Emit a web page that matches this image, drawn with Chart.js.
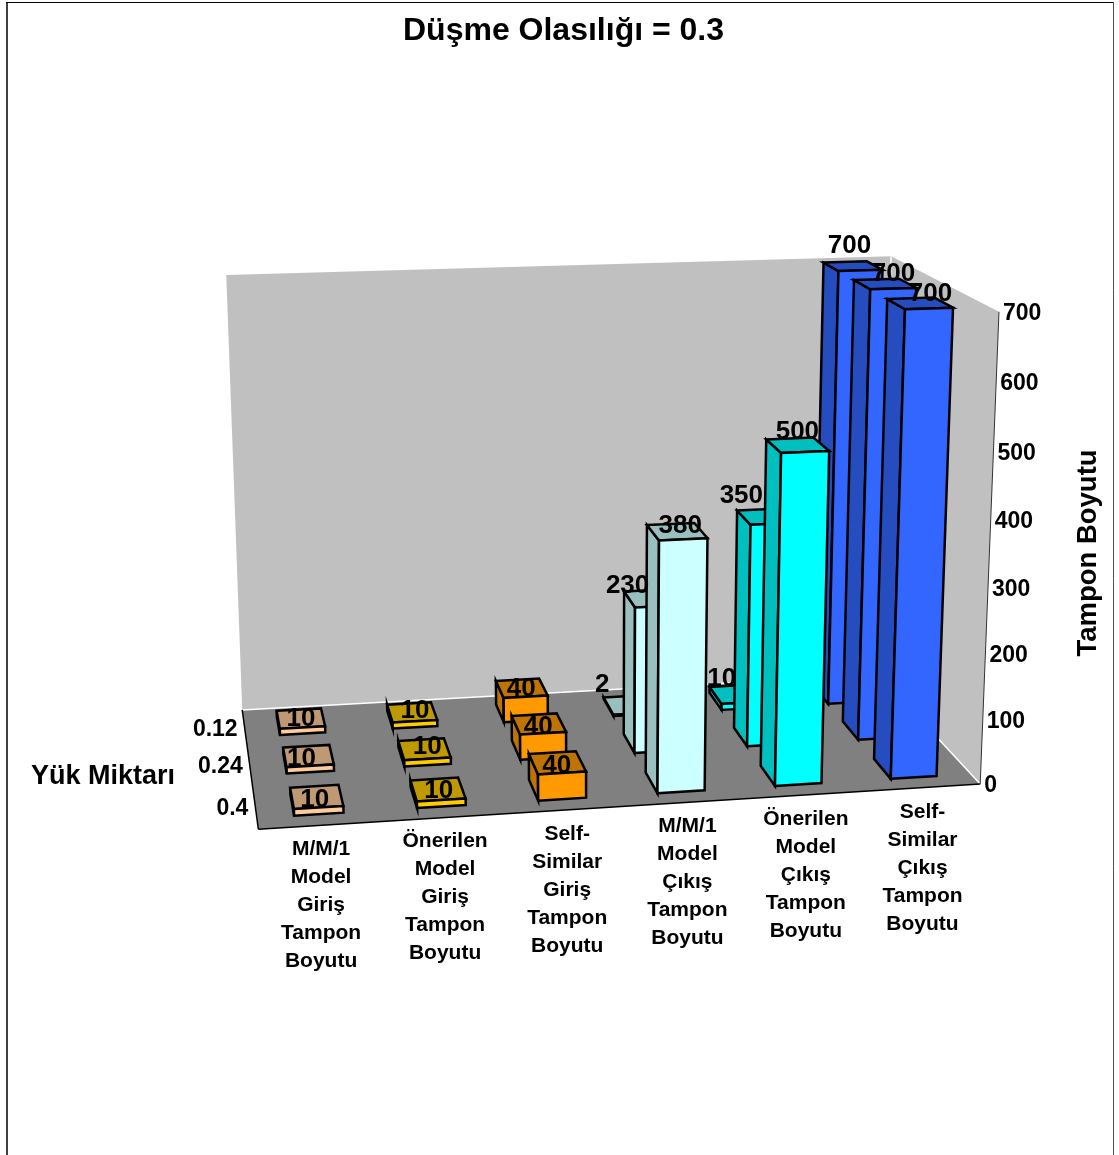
<!DOCTYPE html>
<html>
<head>
<meta charset="utf-8">
<title>Düşme Olasılığı = 0.3</title>
<style>
  html, body { margin: 0; padding: 0; background: #fff; overflow: hidden; }
  #wrap { width: 1119px; height: 1155px; }
</style>
<script src="https://cdn.jsdelivr.net/npm/chart.js@4"></script>
</head>
<body>
<div id="wrap"><canvas id="chart" width="1119" height="1155"></canvas></div>
<script>
// Buffer sizes per model, one list for each load level.
const categories = [
  ['M/M/1', 'Model', 'Giriş', 'Tampon', 'Boyutu'],
  ['Önerilen', 'Model', 'Giriş', 'Tampon', 'Boyutu'],
  ['Self-', 'Similar', 'Giriş', 'Tampon', 'Boyutu'],
  ['M/M/1', 'Model', 'Çıkış', 'Tampon', 'Boyutu'],
  ['Önerilen', 'Model', 'Çıkış', 'Tampon', 'Boyutu'],
  ['Self-', 'Similar', 'Çıkış', 'Tampon', 'Boyutu']
];
const loadLevels = ['0.12', '0.24', '0.4'];
const load012 = [10, 10, 40, 2, 10, 700];
const load024 = [10, 10, 40, 230, 350, 700];
const load040 = [10, 10, 40, 380, 500, 700];
const valueTicks = [0, 100, 200, 300, 400, 500, 600, 700];
const frontColors = ['#FFCC99', '#FFCC00', '#FF9900', '#CCFFFF', '#00FFFF', '#3366FF'];

const chartTitle = 'Düşme Olasılığı = 0.3';
const depthTitle = 'Yük Miktarı';
const valueTitle = 'Tampon Boyutu';

const FONT = '"Liberation Sans", Arial, sans-serif';
const BAR_WIDTH = 0.4;   // share of a category band
const BAR_DEPTH = 0.5;   // share of a load-level band
const BAR_STROKE = 2.5;

// Hand placement of value labels, in pixels, per load level and model.
const labelNudge = [
  [[4, 4], [4, 3], [-2, 5], [-32, -16], [-22, -11], [-13, -10]],
  [[-3, 7], [4, 2], [-2, 7], [-29, -7], [-32, -14], [-1, 0]],
  [[2, 7], [2, 6], [-2, 7], [-1, 2], [-7, -5], [1, 0]]
];

// Camera calibration: box coordinates (u, v, h), all 0..1, with the screen point each one lands on.
// u runs left to right, v from back wall to front edge, h from floor to the top of the value axis.
const calibration = [
  [0, 0, 0, 242, 710], [1, 0, 0, 877, 675], [0, 1, 0, 258, 831], [1, 1, 0, 980, 784],
  [0, 0, 1, 227, 274], [1, 0, 1, 892, 256], [1, 1, 1, 999, 313],
  [1, 1, 1/7, 984, 720], [1, 1, 2/7, 987, 654], [1, 1, 3/7, 989, 587],
  [1, 1, 4/7, 992, 520], [1, 1, 5/7, 994, 451], [1, 1, 6/7, 996, 383],
  [5.3/6, 11/12, 0, 890, 777], [5.7/6, 11/12, 0, 935, 773], [5.3/6, 9/12, 0, 876, 762],
  [5.3/6, 11/12, 1, 902, 308], [5.7/6, 11/12, 1, 952, 307], [5.3/6, 9/12, 1, 888, 300],
  [3.3/6, 11/12, 0, 657, 792], [3.7/6, 11/12, 0, 703, 789], [3.3/6, 9/12, 0, 648, 775],
  [3.3/6, 11/12, 380/700, 658, 540], [3.7/6, 11/12, 380/700, 706, 538], [3.3/6, 9/12, 380/700, 648, 527],
  [0.3/6, 11/12, 0, 295, 815], [0.7/6, 11/12, 0, 343, 812]
];

// Least-squares fit of a projective camera: x = (a·X) / (c·X + 1), scaled by 1000 for conditioning.
function solveCamera(points) {
  const n = 11;
  const A = Array.from({ length: n }, () => new Array(n + 1).fill(0));
  const addRow = (row, rhs) => {
    for (let i = 0; i < n; i++) {
      for (let j = 0; j < n; j++) A[i][j] += row[i] * row[j];
      A[i][n] += row[i] * rhs;
    }
  };
  for (const [u, v, h, px, py] of points) {
    const x = px / 1000, y = py / 1000;
    addRow([u, v, h, 1, 0, 0, 0, 0, -x * u, -x * v, -x * h], x);
    addRow([0, 0, 0, 0, u, v, h, 1, -y * u, -y * v, -y * h], y);
  }
  for (let c = 0; c < n; c++) {
    let best = c;
    for (let r = c + 1; r < n; r++) if (Math.abs(A[r][c]) > Math.abs(A[best][c])) best = r;
    [A[c], A[best]] = [A[best], A[c]];
    for (let r = 0; r < n; r++) {
      if (r === c) continue;
      const f = A[r][c] / A[c][c];
      for (let k = c; k <= n; k++) A[r][k] -= f * A[c][k];
    }
  }
  return A.map((row, i) => row[n] / row[i]);
}
const cam = solveCamera(calibration);

function project(u, v, h) {
  const w = cam[8] * u + cam[9] * v + cam[10] * h + 1;
  return [
    1000 * (cam[0] * u + cam[1] * v + cam[2] * h + cam[3]) / w,
    1000 * (cam[4] * u + cam[5] * v + cam[6] * h + cam[7]) / w
  ];
}

// Scale readers: turn data values into the 0..1 box coordinates.
const uOf = (chart, i) => (chart.scales.x.getPixelForValue(i) - chart.scales.x.left) / chart.scales.x.width;
const vOf = (chart, i) => (chart.scales.depth.getPixelForValue(i) - chart.scales.depth.left) / chart.scales.depth.width;
const hOf = (chart, val) => (chart.scales.y.bottom - chart.scales.y.getPixelForValue(val)) / chart.scales.y.height;

function shade(hex, k) {
  const n = parseInt(hex.slice(1), 16);
  const c = s => Math.round(((n >> s) & 255) * k);
  return `rgb(${c(16)},${c(8)},${c(0)})`;
}

function polygon(ctx, pts, fill, stroke, width) {
  ctx.beginPath();
  pts.forEach((p, i) => (i ? ctx.lineTo(p[0], p[1]) : ctx.moveTo(p[0], p[1])));
  ctx.closePath();
  if (fill) { ctx.fillStyle = fill; ctx.fill(); }
  if (stroke) { ctx.strokeStyle = stroke; ctx.lineWidth = width; ctx.stroke(); }
}

function segment(ctx, a, b, color, width) {
  ctx.beginPath();
  ctx.moveTo(a[0], a[1]);
  ctx.lineTo(b[0], b[1]);
  ctx.strokeStyle = color;
  ctx.lineWidth = width;
  ctx.stroke();
}

// Bar controller that draws each value as a box in the projected scene.
class Bar3DController extends Chart.BarController {
  draw() {
    const chart = this.chart, ctx = chart.ctx, meta = this.getMeta();
    const values = this.getDataset().data;
    const halfU = BAR_WIDTH / categories.length / 2;
    const halfV = BAR_DEPTH / loadLevels.length / 2;
    const v = vOf(chart, this.getDataset().depthIndex);
    ctx.save();
    ctx.lineJoin = 'miter';
    ctx.miterLimit = 10;
    meta.data.forEach((el, i) => {
      const u = uOf(chart, i), h = hOf(chart, values[i]);
      const color = this.getDataset().backgroundColor[i];
      const side = shade(color, 0.75);
      const u0 = u - halfU, u1 = u + halfU, v0 = v - halfV, v1 = v + halfV;
      polygon(ctx, [project(u0, v0, 0), project(u0, v1, 0), project(u0, v1, h), project(u0, v0, h)], side, '#000', BAR_STROKE);
      polygon(ctx, [project(u0, v0, h), project(u1, v0, h), project(u1, v1, h), project(u0, v1, h)], side, '#000', BAR_STROKE);
      polygon(ctx, [project(u0, v1, 0), project(u1, v1, 0), project(u1, v1, h), project(u0, v1, h)], color, '#000', BAR_STROKE);
    });
    ctx.restore();
  }
}
Bar3DController.id = 'bar3d';
Bar3DController.defaults = {};
Chart.register(Bar3DController);

// Frame, walls and floor behind the bars; all scene text in front of them.
const scenePlugin = {
  id: 'scene',
  beforeDraw(chart) {
    const ctx = chart.ctx;
    ctx.save();
    segment(ctx, [7, 2], [7, 1155], '#404040', 2);
    segment(ctx, [6, 2.5], [1114, 2.5], '#000', 1);
    segment(ctx, [1113.5, 2], [1113.5, 1155], '#505050', 1);
    ctx.restore();
  },
  beforeDatasetsDraw(chart) {
    const ctx = chart.ctx;
    ctx.save();
    polygon(ctx, [project(0, 0, 0), project(1, 0, 0), project(1, 0, 1), project(0, 0, 1)], '#C0C0C0');
    polygon(ctx, [project(1, 0, 0), project(1, 1, 0), project(1, 1, 1), project(1, 0, 1)], '#C0C0C0');
    polygon(ctx, [project(0, 0, 0), project(1, 0, 0), project(1, 1, 0), project(0, 1, 0)], '#808080');
    segment(ctx, project(0, 0, 0), project(1, 0, 0), '#FFF', 1.5);
    segment(ctx, project(1, 0, 0), project(1, 1, 0), '#FFF', 1.5);
    segment(ctx, project(1, 0, 0), project(1, 0, 1), '#FFF', 1.5);
    segment(ctx, project(0, 0, 0), project(0, 1, 0), '#000', 1.5);
    segment(ctx, project(0, 1, 0), project(1, 1, 0), '#000', 1.5);
    segment(ctx, project(1, 1, 0), project(1, 1, 1), '#333', 1);
    ctx.restore();
  },
  afterDatasetsDraw(chart) {
    const ctx = chart.ctx;
    ctx.save();
    ctx.fillStyle = '#000';
    ctx.textBaseline = 'middle';

    // Value labels above each box
    ctx.font = `bold 26px ${FONT}`;
    ctx.textAlign = 'center';
    chart.data.datasets.forEach(ds => {
      const v = vOf(chart, ds.depthIndex);
      ds.data.forEach((val, i) => {
        const u = uOf(chart, i);
        const p = project(u, v, hOf(chart, val));
        const nudge = labelNudge[ds.depthIndex][i];
        ctx.fillText(String(val), p[0] - 5 + 16 * u + nudge[0], p[1] - 4 - 6 * hOf(chart, val) + nudge[1]);
      });
    });

    // Value axis along the right wall's front edge
    ctx.font = `bold 23px ${FONT}`;
    ctx.textAlign = 'left';
    valueTicks.forEach(t => {
      const p = project(1, 1, hOf(chart, t));
      ctx.fillText(String(t), p[0] + 4, p[1] + 2);
    });

    // Load levels along the floor's left edge
    ctx.textAlign = 'right';
    loadLevels.forEach((label, i) => {
      const p = project(0, vOf(chart, i), 0);
      ctx.fillText(label, p[0] - 7, p[1] + 1.5);
    });

    // Model names under the floor's front edge
    ctx.font = `bold 21px ${FONT}`;
    ctx.textAlign = 'center';
    categories.forEach((lines, i) => {
      const p = project(uOf(chart, i), 1, 0);
      lines.forEach((line, k) => ctx.fillText(line, p[0], p[1] + 24 + k * 28));
    });

    // Axis titles
    ctx.font = `bold 27px ${FONT}`;
    ctx.fillText(depthTitle, 103, 777);
    ctx.font = `bold 27.5px ${FONT}`;
    ctx.translate(1088, 553);
    ctx.rotate(-Math.PI / 2);
    ctx.fillText(valueTitle, 0, 0);
    ctx.restore();
  }
};

function series(label, depthIndex, data, order) {
  return { label, depthIndex, data, order, backgroundColor: frontColors, clip: false };
}

new Chart(document.getElementById('chart'), {
  type: 'bar3d',
  data: {
    labels: categories,
    datasets: [
      series(loadLevels[0], 0, load012, 3),
      series(loadLevels[1], 1, load024, 2),
      series(loadLevels[2], 2, load040, 1)
    ]
  },
  options: {
    responsive: false,
    animation: false,
    events: [],
    layout: { padding: { left: 8 } },
    scales: {
      x: { type: 'category', display: false, offset: true },
      y: { type: 'linear', display: false, min: 0, max: 700 },
      depth: { type: 'category', axis: 'x', labels: loadLevels, display: false, offset: true }
    },
    plugins: {
      legend: { display: false },
      tooltip: { enabled: false },
      title: {
        display: true,
        text: chartTitle,
        color: '#000',
        font: { family: FONT, size: 32, weight: 'bold', lineHeight: 1.2 },
        padding: { top: 12, bottom: 0 }
      }
    }
  },
  plugins: [scenePlugin]
});
</script>
</body>
</html>
